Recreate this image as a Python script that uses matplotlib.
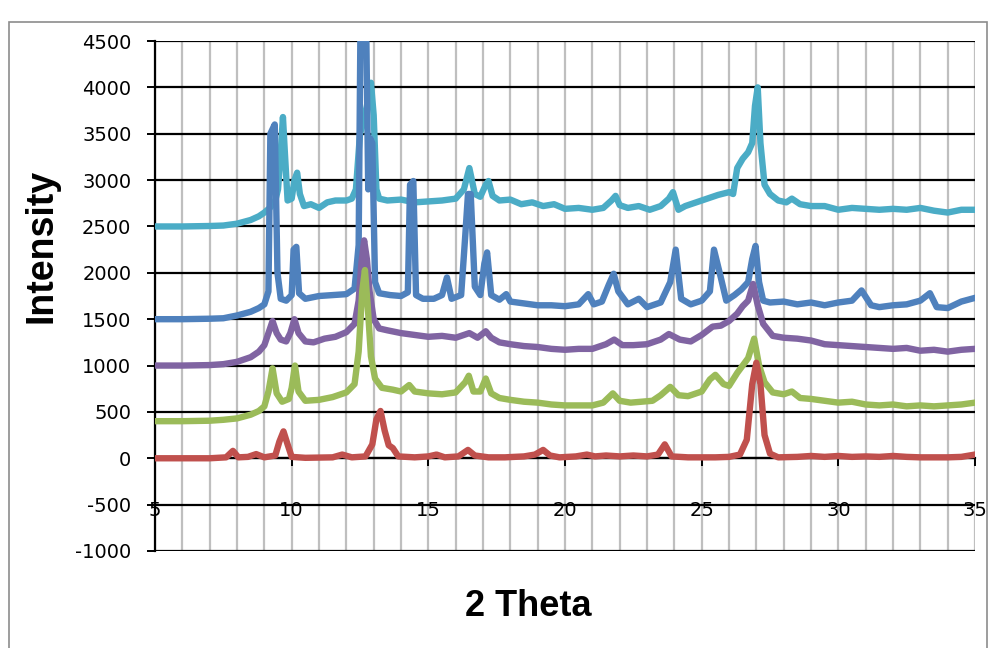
import matplotlib.pyplot as plt
from matplotlib.patches import Rectangle
from matplotlib.ticker import MultipleLocator

plt.rcParams['axes.unicode_minus'] = False

# (2 theta, intensity), one list per sample
cyan_pts = [(5, 2500), (6, 2500), (7, 2505), (7.5, 2510), (8, 2530), (8.5, 2570), (8.8, 2610), (9.0, 2650),
            (9.2, 2700), (9.4, 2780), (9.5, 2900), (9.6, 3300), (9.68, 3680), (9.75, 3300), (9.85, 2780),
            (10.0, 2800), (10.1, 3000), (10.2, 3080), (10.3, 2850), (10.45, 2720), (10.7, 2740), (11.0, 2700),
            (11.3, 2760), (11.6, 2780), (12.0, 2780), (12.2, 2800), (12.35, 2900), (12.5, 3500), (12.6, 3600),
            (12.75, 3800), (12.9, 4050), (13.0, 3700), (13.1, 2900), (13.2, 2800), (13.5, 2780), (14.0, 2790),
            (14.5, 2760), (15.0, 2770), (15.5, 2780), (16.0, 2800), (16.3, 2900), (16.5, 3130), (16.7, 2850),
            (16.9, 2820), (17.1, 2950), (17.2, 2990), (17.35, 2830), (17.6, 2780), (18.0, 2790), (18.4, 2740),
            (18.8, 2760), (19.2, 2720), (19.6, 2740), (20.0, 2690), (20.5, 2700), (21.0, 2680), (21.4, 2700),
            (21.7, 2780), (21.85, 2830), (22.0, 2730), (22.3, 2700), (22.7, 2720), (23.1, 2680), (23.5, 2720),
            (23.8, 2800), (23.95, 2870), (24.15, 2680), (24.4, 2720), (24.8, 2760), (25.2, 2800), (25.6, 2840),
            (26.0, 2870), (26.15, 2850), (26.3, 3130), (26.5, 3230), (26.7, 3300), (26.85, 3400), (26.95, 3800),
            (27.05, 4000), (27.15, 3400), (27.3, 2950), (27.5, 2850), (27.8, 2780), (28.1, 2760), (28.3, 2800),
            (28.6, 2740), (29.0, 2720), (29.5, 2720), (30.0, 2680), (30.5, 2700), (31.0, 2690), (31.5, 2680),
            (32.0, 2690), (32.5, 2680), (33.0, 2700), (33.5, 2670), (34.0, 2650), (34.5, 2680), (35.0, 2680)]

blue_pts = [(5, 1500), (6, 1500), (7, 1505), (7.5, 1510), (8, 1540), (8.5, 1580), (8.8, 1620), (9.0, 1660),
            (9.15, 1800), (9.22, 3500), (9.38, 3600), (9.48, 2000), (9.6, 1720), (9.8, 1700), (10.0, 1760),
            (10.07, 2250), (10.17, 2280), (10.27, 1780), (10.5, 1720), (11.0, 1750), (11.5, 1760), (12.0, 1770),
            (12.3, 1830), (12.45, 2300), (12.52, 4800), (12.72, 4800), (12.8, 2900), (12.87, 3450), (12.95, 3400),
            (13.05, 1900), (13.2, 1780), (13.6, 1760), (14.0, 1750), (14.25, 1790), (14.33, 2950), (14.45, 2990),
            (14.55, 1760), (14.8, 1720), (15.2, 1720), (15.5, 1760), (15.68, 1950), (15.85, 1720), (16.2, 1760),
            (16.35, 2400), (16.45, 2850), (16.55, 2850), (16.7, 1850), (16.9, 1760), (17.05, 2100), (17.15, 2220),
            (17.3, 1760), (17.6, 1710), (17.85, 1770), (18.0, 1690), (18.5, 1670), (19.0, 1650), (19.5, 1650),
            (20.0, 1640), (20.5, 1660), (20.85, 1770), (21.05, 1660), (21.35, 1690), (21.6, 1870), (21.78, 1990),
            (21.95, 1800), (22.3, 1660), (22.7, 1720), (23.0, 1630), (23.5, 1680), (23.85, 1900), (24.05, 2250),
            (24.25, 1720), (24.6, 1660), (25.0, 1700), (25.3, 1800), (25.45, 2250), (25.7, 1950), (25.9, 1700),
            (26.2, 1760), (26.45, 1820), (26.7, 1900), (26.85, 2150), (26.97, 2290), (27.1, 1900), (27.25, 1700),
            (27.5, 1680), (28.0, 1690), (28.5, 1660), (29.0, 1680), (29.5, 1650), (30.0, 1680), (30.5, 1700),
            (30.85, 1810), (31.2, 1650), (31.5, 1630), (32.0, 1650), (32.5, 1660), (33.0, 1700), (33.35, 1780),
            (33.6, 1630), (34.0, 1620), (34.5, 1690), (35.0, 1730)]

purple_pts = [(5, 1000), (6, 1000), (7, 1005), (7.5, 1015), (8, 1040), (8.5, 1090), (8.8, 1150), (9.0, 1220),
              (9.15, 1350), (9.3, 1480), (9.45, 1350), (9.6, 1280), (9.8, 1260), (9.95, 1350), (10.1, 1500),
              (10.25, 1350), (10.5, 1260), (10.8, 1250), (11.2, 1290), (11.6, 1310), (12.0, 1360), (12.3, 1450),
              (12.45, 1700), (12.55, 2100), (12.65, 2350), (12.75, 2150), (12.85, 1800), (13.0, 1500), (13.2, 1400),
              (13.5, 1380), (14.0, 1350), (14.5, 1330), (15.0, 1310), (15.5, 1320), (16.0, 1300), (16.3, 1330),
              (16.5, 1350), (16.8, 1300), (17.1, 1370), (17.3, 1300), (17.6, 1250), (18.0, 1230), (18.5, 1210),
              (19.0, 1200), (19.5, 1180), (20.0, 1170), (20.5, 1180), (21.0, 1180), (21.5, 1230), (21.8, 1280),
              (22.1, 1220), (22.5, 1220), (23.0, 1230), (23.5, 1280), (23.8, 1340), (24.2, 1280), (24.6, 1260),
              (25.0, 1330), (25.4, 1420), (25.7, 1430), (26.0, 1480), (26.3, 1560), (26.5, 1640), (26.7, 1700),
              (26.88, 1880), (27.05, 1650), (27.25, 1450), (27.6, 1320), (28.0, 1300), (28.5, 1290), (29.0, 1270),
              (29.5, 1230), (30.0, 1220), (30.5, 1210), (31.0, 1200), (31.5, 1190), (32.0, 1180), (32.5, 1190),
              (33.0, 1160), (33.5, 1170), (34.0, 1150), (34.5, 1170), (35.0, 1180)]

green_pts = [(5, 400), (6, 400), (7, 405), (7.5, 415), (8, 430), (8.5, 470), (8.8, 510), (9.0, 560),
             (9.15, 720), (9.3, 970), (9.45, 700), (9.65, 610), (9.9, 640), (10.0, 760), (10.12, 1000),
             (10.25, 720), (10.5, 620), (11.0, 630), (11.5, 660), (12.0, 710), (12.3, 800), (12.45, 1150),
             (12.58, 1800), (12.68, 2030), (12.78, 1650), (12.9, 1100), (13.05, 860), (13.3, 760), (13.7, 740),
             (14.0, 720), (14.3, 790), (14.5, 720), (15.0, 700), (15.5, 690), (16.0, 710), (16.35, 820),
             (16.48, 890), (16.65, 720), (16.9, 720), (17.1, 860), (17.3, 700), (17.6, 650), (18.0, 630),
             (18.5, 610), (19.0, 600), (19.5, 580), (20.0, 570), (20.5, 570), (21.0, 570), (21.4, 600),
             (21.75, 700), (22.0, 620), (22.4, 600), (22.8, 610), (23.2, 620), (23.5, 680), (23.85, 770),
             (24.15, 680), (24.5, 670), (25.0, 720), (25.3, 850), (25.5, 900), (25.8, 800), (26.0, 780),
             (26.3, 920), (26.5, 1000), (26.7, 1080), (26.92, 1290), (27.1, 1000), (27.3, 820), (27.6, 710),
             (28.0, 690), (28.3, 720), (28.6, 650), (29.0, 640), (29.5, 620), (30.0, 600), (30.5, 610),
             (31.0, 580), (31.5, 570), (32.0, 580), (32.5, 560), (33.0, 570), (33.5, 560), (34.0, 570),
             (34.5, 580), (35.0, 600)]

red_pts = [(5, 0), (7.0, 0), (7.6, 10), (7.85, 80), (8.05, 10), (8.4, 15), (8.7, 45), (9.0, 10), (9.4, 30),
           (9.55, 180), (9.7, 290), (9.85, 150), (10.0, 15), (10.5, 5), (11.5, 10), (11.85, 40), (12.2, 10),
           (12.7, 20), (12.95, 150), (13.1, 420), (13.25, 510), (13.4, 300), (13.55, 140), (13.7, 110),
           (13.9, 20), (14.5, 10), (15.0, 20), (15.3, 40), (15.6, 10), (16.1, 20), (16.45, 90), (16.7, 30),
           (17.2, 10), (17.8, 10), (18.5, 20), (18.9, 40), (19.2, 90), (19.45, 30), (19.8, 10), (20.4, 20),
           (20.8, 40), (21.1, 20), (21.5, 30), (22.0, 20), (22.5, 30), (23.0, 20), (23.4, 40), (23.65, 150),
           (23.9, 20), (24.5, 10), (25.0, 10), (25.5, 10), (26.0, 15), (26.4, 40), (26.65, 200), (26.85, 800),
           (27.0, 1030), (27.15, 800), (27.3, 250), (27.5, 50), (27.8, 10), (28.5, 15), (29.0, 25), (29.5, 15),
           (30.0, 25), (30.5, 15), (31.0, 20), (31.5, 15), (32.0, 25), (32.5, 15), (33.0, 10), (34.0, 10),
           (34.5, 15), (35.0, 40)]

# bottom to top drawing order
series = [(cyan_pts, '#4BACC6'), (blue_pts, '#4F81BD'), (purple_pts, '#8064A2'),
          (green_pts, '#9BBB59'), (red_pts, '#C0504D')]

fig = plt.figure(figsize=(9.95, 6.48), dpi=100)
# grey outer frame like the excel chart area
fig.patches.append(Rectangle((0.009, -0.02), 0.983, 1.006 - 0.02, transform=fig.transFigure,
                             fill=False, edgecolor='#8c8c8c', linewidth=1.2))

ax = fig.add_axes([0.1558, 0.1497, 0.8241, 0.787])

for i, (pts, col) in enumerate(series):
    xs, ys = zip(*pts)
    ax.plot(xs, ys, color=col, linewidth=4.6, solid_joinstyle='round', zorder=3 + i)

ax.set_xlim(5, 35)
ax.set_ylim(-1000, 4500)
ax.xaxis.set_major_locator(MultipleLocator(5))
ax.xaxis.set_minor_locator(MultipleLocator(1))
ax.yaxis.set_major_locator(MultipleLocator(500))

ax.grid(which='minor', axis='x', color='#BFBFBF', linewidth=1.6, zorder=0)
ax.grid(which='major', axis='x', color='#BFBFBF', linewidth=1.6, zorder=0)
ax.grid(which='major', axis='y', color='black', linewidth=1.6, zorder=1)
ax.set_axisbelow(True)

for s in ['top', 'right']:
    ax.spines[s].set_visible(False)
ax.spines['left'].set_linewidth(1.6)
ax.spines['bottom'].set_position(('data', 0))
ax.spines['bottom'].set_linewidth(1.6)
ax.spines['bottom'].set_zorder(2)

ax.tick_params(axis='y', direction='out', length=6, width=1.4, labelsize=14, pad=11)
ax.tick_params(axis='x', which='major', direction='out', length=6, width=1.4, labelsize=14, pad=25)
ax.tick_params(axis='x', which='minor', length=0)

ax.set_ylabel('Intensity', fontsize=27, fontweight='bold', family='Liberation Sans')
ax.yaxis.set_label_coords(-0.117, 0.598)
ax.set_xlabel('2 Theta', fontsize=26, fontweight='bold', family='Liberation Sans')
ax.xaxis.set_label_coords(0.455, -0.075)

fig.savefig('out.png', dpi=100)
